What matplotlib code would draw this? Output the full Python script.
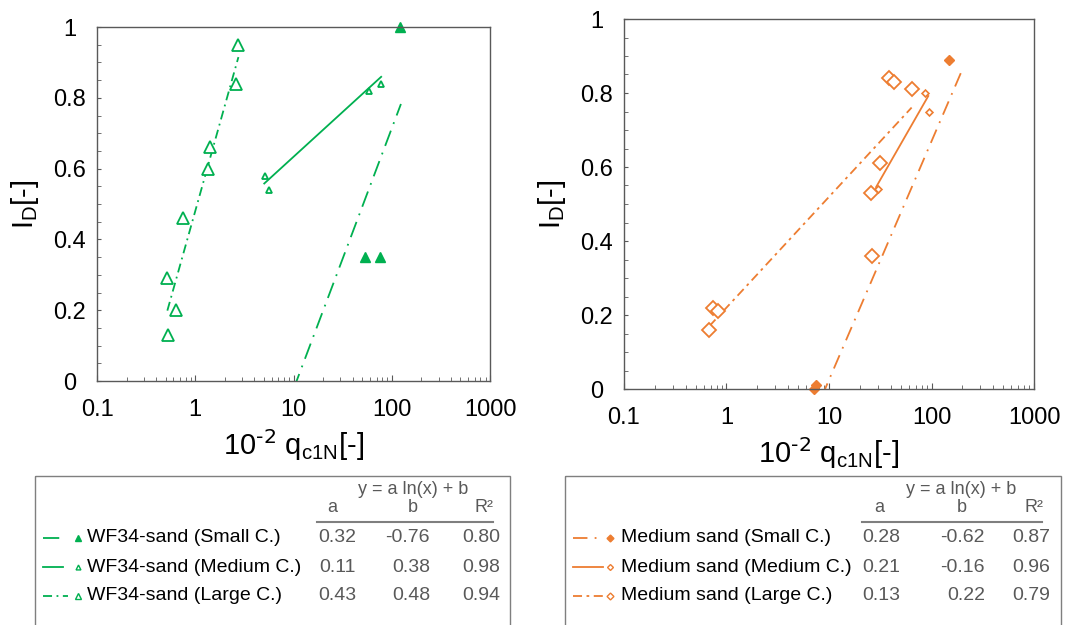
import numpy as np
import matplotlib
matplotlib.use("Agg")
import matplotlib.pyplot as plt
from matplotlib.lines import Line2D
from matplotlib.patches import Rectangle
from matplotlib.ticker import FixedLocator, LogLocator, NullFormatter

plt.rcParams['font.family'] = ['Liberation Sans', 'DejaVu Sans']
plt.rcParams['mathtext.default'] = 'regular'

GREEN = '#00B050'
ORANGE = '#ED7D31'
GREY = '#595959'

# --- WF34-sand: measured points (10^-2 qc1N, ID) ---
wf_small_x = [53.8, 75.4, 121.0]
wf_small_y = [0.35, 0.35, 1.00]
wf_medium_x = [5.13, 5.68, 59.2, 77.8]
wf_medium_y = [0.58, 0.54, 0.82, 0.84]
wf_large_x = [0.53, 0.515, 0.64, 0.75, 1.34, 1.41, 2.58, 2.70]
wf_large_y = [0.13, 0.29, 0.20, 0.46, 0.60, 0.66, 0.84, 0.95]

# --- Medium sand: measured points ---
ms_small_x = [7.2, 7.4, 149.0]
ms_small_y = [0.0, 0.01, 0.89]
ms_medium_x = [29.8, 85.8, 94.6]
ms_medium_y = [0.54, 0.80, 0.75]
ms_large_x = [0.68, 0.74, 0.83, 25.5, 26.1, 31.5, 38.8, 43.1, 64.0]
ms_large_y = [0.16, 0.22, 0.21, 0.53, 0.36, 0.61, 0.84, 0.83, 0.81]

# fit coefficients y = a ln(x) + b and R^2
wf_names = ['WF34-sand (Small C.)', 'WF34-sand (Medium C.)', 'WF34-sand (Large C.)']
wf_a = [0.32, 0.11, 0.43]
wf_b = [-0.76, 0.38, 0.48]
wf_r2 = [0.80, 0.98, 0.94]
wf_fit_range = [(10.0, 124.0), (5.04, 78.0), (0.52, 2.75)]

ms_names = ['Medium sand (Small C.)', 'Medium sand (Medium C.)', 'Medium sand (Large C.)']
ms_a = [0.28, 0.21, 0.13]
ms_b = [-0.62, -0.16, 0.22]
ms_r2 = [0.87, 0.96, 0.79]
ms_fit_range = [(8.5, 193.0), (28.8, 93.0), (0.68, 64.0)]

x_ticks = [0.1, 1, 10, 100, 1000]
x_ticklabels = ['0.1', '1', '10', '100', '1000']
y_ticks = [0, 0.2, 0.4, 0.6, 0.8, 1.0]
y_ticklabels = ['0', '0.2', '0.4', '0.6', '0.8', '1']

# line styles: small, medium, large container
styles = [(0, (9, 4, 1, 4)), '-', (0, (5, 2.5, 1, 2.5))]
ms_styles = [(0, (8, 4, 1, 4)), '-', (0, (5, 2.5, 1.5, 2.5))]

W, H = 1080, 625
fig = plt.figure(figsize=(W / 100, H / 100), dpi=100)


def px_axes(l, t, r, b):
    return fig.add_axes([l / W, 1 - b / H, (r - l) / W, (b - t) / H])


def style_axes(ax):
    ax.set_xscale('log')
    ax.set_xlim(0.1, 1000)
    ax.set_ylim(0, 1)
    ax.set_xticks(x_ticks)
    ax.set_xticklabels(x_ticklabels)
    ax.xaxis.set_minor_locator(LogLocator(base=10, subs=np.arange(2, 10)))
    ax.xaxis.set_minor_formatter(NullFormatter())
    ax.set_yticks(y_ticks)
    ax.set_yticklabels(y_ticklabels)
    ax.yaxis.set_minor_locator(FixedLocator(np.arange(0, 1.0001, 0.05)))
    ax.tick_params(which='both', direction='in', color=GREY, labelsize=17,
                   top=False, right=False)
    ax.tick_params(axis='x', which='major', length=4, pad=13)
    ax.tick_params(axis='x', which='minor', length=3)
    ax.tick_params(axis='y', which='both', length=3, pad=19.5)
    for lab in ax.get_yticklabels():
        lab.set_horizontalalignment('center')
    for sp in ax.spines.values():
        sp.set_color(GREY)
        sp.set_linewidth(1.0)
    ax.set_xlabel(r'$10^{\text{-2}}$ q$_{c1N}$[-]', fontsize=21, labelpad=4)
    ax.set_ylabel(r'I$_D$[-]', fontsize=21, labelpad=9)


def fit_line(ax, a, b, rng, color, ls):
    xs = np.logspace(np.log10(rng[0]), np.log10(rng[1]), 100)
    ax.plot(xs, a * np.log(xs) + b, color=color, ls=ls, lw=1.3, clip_on=True)


# left panel: WF34-sand
ax1 = px_axes(97, 27, 490, 381)
style_axes(ax1)
for i in range(3):
    fit_line(ax1, wf_a[i], wf_b[i], wf_fit_range[i], GREEN, styles[i])
ax1.plot(wf_small_x, wf_small_y, '^', color=GREEN, ms=7, clip_on=False)
ax1.plot(wf_medium_x, wf_medium_y, '^', mfc='white', mec=GREEN, mew=1.3, ms=4.5)
ax1.plot(wf_large_x, wf_large_y, '^', mfc='white', mec=GREEN, mew=1.3, ms=8)

# right panel: Medium sand
ax2 = px_axes(624, 19, 1034, 389)
style_axes(ax2)
for i in range(3):
    fit_line(ax2, ms_a[i], ms_b[i], ms_fit_range[i], ORANGE, ms_styles[i])
ax2.plot(ms_small_x, ms_small_y, 'D', color=ORANGE, ms=5.5, clip_on=False)
ax2.plot(ms_medium_x, ms_medium_y, 'D', mfc='white', mec=ORANGE, mew=1.2, ms=3.5)
ax2.plot(ms_large_x, ms_large_y, 'D', mfc='white', mec=ORANGE, mew=1.3, ms=7)

# fit tables below the panels, drawn in pixel coordinates
tab = fig.add_axes([0, 0, 1, 1], zorder=-1)
tab.set_xlim(0, W)
tab.set_ylim(H, 0)
tab.axis('off')

row_y = [538, 567, 596]


def draw_table(x0, x1, names, a, b, r2, color, lss, mk, mk_kw, cols, hdr):
    tab.add_patch(Rectangle((x0, 476), x1 - x0, 200, fill=False,
                            ec='#7F7F7F', lw=1.0))
    ca, cb, cr, lab_x, mk_x, ln0, ln1 = cols
    tab.text(hdr[0], 490, 'y = a ln(x) + b', color=GREY, fontsize=13,
             ha='center', va='center')
    tab.text(hdr[1], 508, 'a', color=GREY, fontsize=13, ha='center', va='center')
    tab.text(hdr[2], 508, 'b', color=GREY, fontsize=13, ha='center', va='center')
    tab.text(hdr[3], 508, 'R²', color=GREY, fontsize=13, ha='right', va='center')
    tab.plot([hdr[4], hdr[5]], [522, 522], color='#7F7F7F', lw=1.5)
    for i in range(3):
        y = row_y[i]
        tab.add_line(Line2D([ln0, ln1[i]], [y, y], color=color, ls=lss[i], lw=1.3))
        tab.plot(mk_x, y, mk[i], **mk_kw[i])
        tab.text(lab_x, y, names[i], fontsize=14, ha='left', va='center')
        tab.text(ca, y, '%.2f' % a[i], color=GREY, fontsize=14, ha='center', va='center')
        tab.text(cb, y, '%.2f' % b[i], color=GREY, fontsize=14, ha='right', va='center')
        tab.text(cr, y, '%.2f' % r2[i], color=GREY, fontsize=14, ha='right', va='center')


draw_table(35, 510, wf_names, wf_a, wf_b, wf_r2, GREEN, styles, ['^', '^', '^'],
           [dict(color=GREEN, ms=4), dict(mfc='white', mec=GREEN, mew=1, ms=3.5),
            dict(mfc='white', mec=GREEN, mew=1, ms=4)],
           (337, 430, 500, 87, 78, 43, [60, 63, 68]),
           (413, 332, 413, 494, 317, 493))

draw_table(565, 1061, ms_names, ms_a, ms_b, ms_r2, ORANGE, ms_styles, ['D', 'D', 'D'],
           [dict(color=ORANGE, ms=3.5), dict(mfc='white', mec=ORANGE, mew=1, ms=3),
            dict(mfc='white', mec=ORANGE, mew=1, ms=3.5)],
           (881, 985, 1050, 621, 610, 573, [601, 603, 603]),
           (961, 879, 962, 1044, 862, 1042))

fig.savefig('out.png', dpi=100)
